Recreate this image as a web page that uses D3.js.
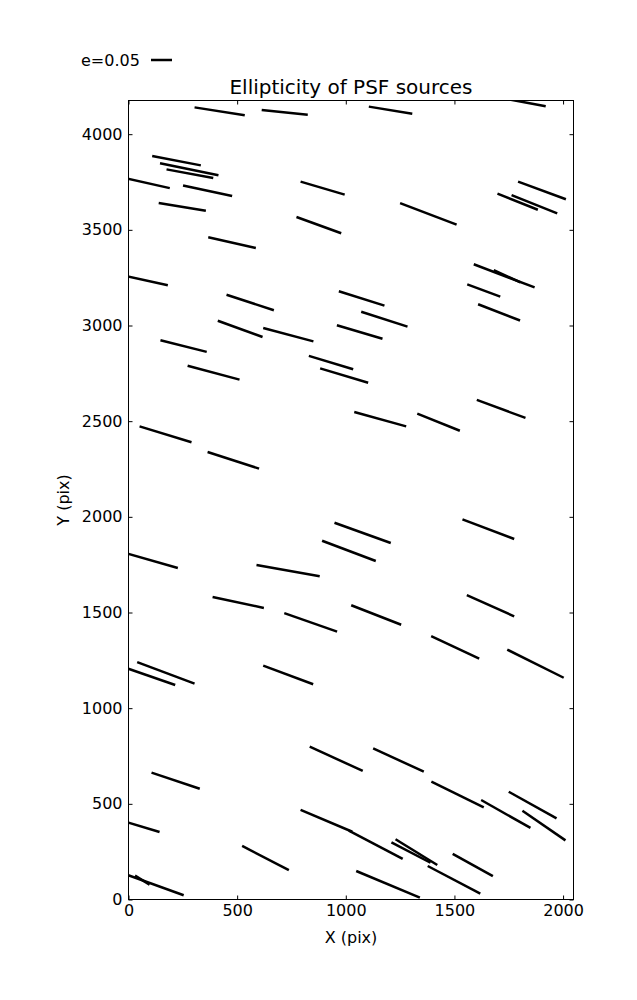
<!DOCTYPE html>
<html><head><meta charset="utf-8">
<script src="https://cdn.jsdelivr.net/npm/d3@7/dist/d3.min.js"></script>
<style>body{margin:0;background:#fff}svg{display:block}</style>
</head><body>
<script>
// Segment endpoints (data units: pixel coordinates on the detector)
const segX1 = [304,613,1106,1698,109,145,175,-37,251,792,1793,1698,1763,139,773,1250,367,-37,451,968,1589,1681,1559,1609,411,620,959,1071,147,830,882,272,51,364,1039,1329,1603,948,891,1537,-37,589,387,717,1025,1557,40,-37,620,1393,1743,834,1126,106,1394,1623,1750,1813,792,1014,-37,523,1229,1210,1492,1377,1048,-37,30];
const segY1 = [4140,4126,4144,4193,3886,3848,3816,3776,3732,3752,3752,3689,3681,3640,3567,3640,3461,3265,3161,3179,3320,3289,3215,3111,3025,2987,3001,3072,2923,2841,2776,2790,2473,2339,2548,2539,2611,1969,1875,1987,1818,1748,1581,1497,1538,1591,1241,1220,1222,1376,1306,799,790,663,616,520,563,464,468,360,414,280,315,299,238,175,149,142,125];
const segX2 = [535,825,1306,1920,333,414,390,190,477,995,2013,1884,1973,356,979,1510,586,181,669,1178,1869,1804,1711,1802,617,851,1169,1284,360,1034,1103,511,290,601,1278,1525,1827,1207,1138,1775,227,880,623,960,1255,1775,304,215,850,1614,2003,1078,1359,328,1635,1850,1970,2011,1030,1262,143,738,1421,1390,1677,1619,1341,254,97];
const segY2 = [4099,4102,4107,4146,3837,3785,3771,3718,3677,3684,3660,3605,3586,3600,3482,3527,3405,3210,3080,3104,3199,3226,3151,3026,2940,2917,2931,2994,2862,2771,2701,2717,2390,2252,2473,2450,2517,1863,1769,1884,1733,1689,1524,1400,1436,1480,1128,1121,1125,1259,1159,672,668,579,482,374,424,309,354,212,353,153,180,192,122,31,10,22,78];

const xTicks = [0,500,1000,1500,2000];
const yTicks = [0,500,1000,1500,2000,2500,3000,3500,4000];
const xDomain = [0,2048];
const yDomain = [0,4176];
const legendE = 0.05;
const unitsPerE = 1932; // segment length (x units) per unit ellipticity
const titleText = "Ellipticity of PSF sources";
const xLabel = "X (pix)";
const yLabel = "Y (pix)";

const W = 637, H = 1000;
const svg = d3.select("body").append("svg").attr("width", W).attr("height", H)
  .style("font-family", "'DejaVu Sans', sans-serif");

const x = d3.scaleLinear().domain(xDomain).range([128.5, 573.5]);
const y = d3.scaleLinear().domain(yDomain).range([899.5, 100.5]);

svg.append("defs").append("clipPath").attr("id","clip")
  .append("rect").attr("x",128.5).attr("y",100.5).attr("width",445).attr("height",799);

// segments
const segs = segX1.map((d,i)=>({x1:d,y1:segY1[i],x2:segX2[i],y2:segY2[i]}));
svg.append("g").attr("clip-path","url(#clip)")
  .selectAll("line").data(segs).join("line")
  .attr("x1",d=>x(d.x1)).attr("y1",d=>y(d.y1))
  .attr("x2",d=>x(d.x2)).attr("y2",d=>y(d.y2))
  .attr("stroke","#000").attr("stroke-width",2.5).attr("stroke-linecap","butt");

// axes
const fs = 16;
const gB = svg.append("g").attr("transform",`translate(0,${y(0)})`)
  .call(d3.axisBottom(x).tickValues(xTicks).tickSize(-4).tickPadding(5).tickFormat(d3.format("d")));
const gL = svg.append("g").attr("transform",`translate(${x(0)},0)`)
  .call(d3.axisLeft(y).tickValues(yTicks).tickSize(-4).tickPadding(6).tickFormat(d3.format("d")));
const gT = svg.append("g").attr("transform",`translate(0,${y(yDomain[1])})`)
  .call(d3.axisTop(x).tickValues(xTicks).tickSize(-4).tickFormat(""));
const gR = svg.append("g").attr("transform",`translate(${x(xDomain[1])},0)`)
  .call(d3.axisRight(y).tickValues(yTicks).tickSize(-4).tickFormat(""));
[gB,gL,gT,gR].forEach(g=>{
  g.select(".domain").remove();
  g.selectAll("text").attr("font-size",fs).attr("font-family","'DejaVu Sans', sans-serif").attr("fill","#000");
  g.selectAll("line").attr("stroke","#000");
});

svg.append("rect").attr("x",x(0)).attr("y",y(yDomain[1]))
  .attr("width",x(xDomain[1])-x(0)).attr("height",y(0)-y(yDomain[1]))
  .attr("fill","none").attr("stroke","#000").attr("stroke-width",1);

// title & labels
svg.append("text").attr("x",(x(0)+x(xDomain[1]))/2).attr("y",93.5)
  .attr("text-anchor","middle").attr("font-size",20).text(titleText);
svg.append("text").attr("x",(x(0)+x(xDomain[1]))/2).attr("y",943)
  .attr("text-anchor","middle").attr("font-size",fs).text(xLabel);
svg.append("text").attr("transform",`translate(69,${(y(0)+y(yDomain[1]))/2}) rotate(-90)`)
  .attr("text-anchor","middle").attr("font-size",fs).text(yLabel);

// legend key
svg.append("text").attr("x",81).attr("y",65.5).attr("font-size",fs).text("e=" + legendE.toFixed(2));
const kx = 151, klen = x(legendE*unitsPerE) - x(0);
svg.append("line").attr("x1",kx).attr("x2",kx+klen).attr("y1",60).attr("y2",60)
  .attr("stroke","#000").attr("stroke-width",2.5);
</script>
</body></html>
